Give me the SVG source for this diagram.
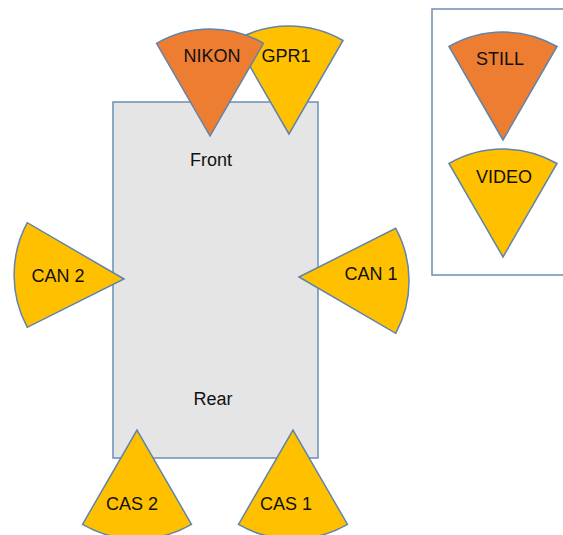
<svg xmlns="http://www.w3.org/2000/svg" width="563" height="535" viewBox="0 0 563 535">
<style>
.box{fill:#E5E5E5;stroke:#6B8EB5;stroke-width:1.5}
.legend{fill:#FFFFFF;stroke:#6B8EB5;stroke-width:1.5}
.still{fill:#ED7D31;stroke:#5F84AD;stroke-width:1.5;stroke-linejoin:miter}
.video{fill:#FFC000;stroke:#5F84AD;stroke-width:1.5;stroke-linejoin:miter}
text{font-family:"Liberation Sans",Arial,sans-serif;font-size:18px;fill:#111111;text-anchor:middle}
</style>
<rect width="563" height="535" fill="#FFFFFF"/>
<g id="legend">
<rect class="legend" x="432" y="9" width="140" height="266"/>
</g>
<g id="vehicle">
<rect class="box" x="113" y="102" width="205" height="356"/>
<text x="211" y="166">Front</text>
<text x="213" y="405">Rear</text>
</g>
<g id="connectors"></g>
<g id="gpr1">
<path class="video" d="M289,134 L235,40.5 A108,108 0 0 1 343,40.5 Z"/>
<text x="286" y="62">GPR1</text>
</g>
<g id="nikon">
<path class="still" d="M210,136 L156.5,43.3 A107,107 0 0 1 263.5,43.3 Z"/>
<text x="212" y="62">NIKON</text>
</g>
<g id="can2">
<path class="video" d="M124,279 L27.3,222.7 A110,110 0 0 0 27.3,327.3 Z"/>
<text x="58" y="282">CAN 2</text>
</g>
<g id="can1">
<path class="video" d="M299,277 L395.7,228.3 A110,110 0 0 1 395.7,333.3 Z"/>
<text x="371" y="280">CAN 1</text>
</g>
<g id="cas2">
<path class="video" d="M137,430 L191.5,524.4 A109,109 0 0 1 82.5,524.4 Z"/>
<text x="132" y="510">CAS 2</text>
</g>
<g id="cas1">
<path class="video" d="M293,430 L347.5,524.4 A109,109 0 0 1 238.5,524.4 Z"/>
<text x="286" y="510">CAS 1</text>
</g>
<g id="still">
<path class="still" d="M503,140 L449,46.5 A108,108 0 0 1 557,46.5 Z"/>
<text x="500" y="65">STILL</text>
</g>
<g id="video">
<path class="video" d="M503,257 L449,163.5 A108,108 0 0 1 557,163.5 Z"/>
<text x="504" y="183">VIDEO</text>
</g>
</svg>
